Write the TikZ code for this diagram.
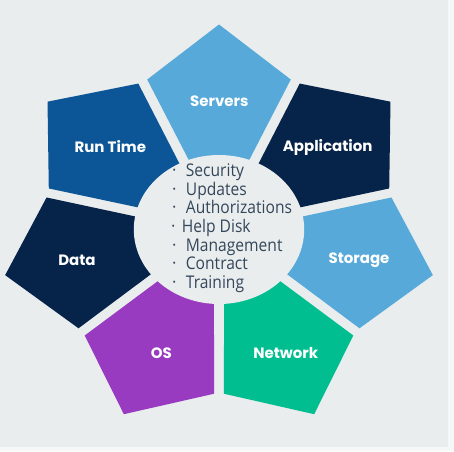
\documentclass[tikz,border=0pt]{standalone}
\usepackage{fontspec}
\usepackage{graphicx}
\newfontfamily\labfont{Poppins}
\newfontfamily\listfont{Open Sans}
\definecolor{bgc}{HTML}{E9EDEE}
\definecolor{edgec}{HTML}{F6F8F8}
\definecolor{lightblue}{HTML}{56A9D9}
\definecolor{navy}{HTML}{062349}
\definecolor{midblue}{HTML}{0C5697}
\definecolor{greenc}{HTML}{00BE8F}
\definecolor{purplec}{HTML}{993BC0}
\definecolor{listc}{HTML}{34465A}
\newcommand{\tallr}[1]{\scalebox{1}[1.12]{#1}}
\tikzset{
  lab/.style={text=white, font=\labfont\bfseries\fontsize{15}{18}\selectfont, inner sep=0pt},
  item/.style={text=listc, font=\listfont\fontsize{15.6}{19}\selectfont, anchor=base west, inner sep=0pt},
  dotc/.style={text=listc, font=\listfont\fontsize{9}{10}\selectfont, anchor=base, inner sep=0pt}
}
\newcommand{\petal}[2]{%
  \fill[#2] (#1:205) -- (#1-24.1:164.3) -- (#1-19:40.5) -- (#1+19:40.5) -- (#1+24.1:164.3) -- cycle;}
\begin{document}
\begin{tikzpicture}[x={(1.07pt,0pt)}, y={(0pt,1pt)}]
\useasboundingbox (0pt,0pt) rectangle (454pt,451pt);
\fill[edgec] (0pt,0pt) rectangle (454pt,451pt);
\fill[bgc] (0pt,4pt) rectangle (448pt,451pt);
\begin{scope}[shift={(219pt,221.5pt)}]
  \petal{90}{lightblue}
  \petal{38.571}{navy}
  \petal{-12.857}{lightblue}
  \petal{-64.286}{greenc}
  \petal{-115.714}{purplec}
  \petal{-167.143}{navy}
  \petal{-218.571}{midblue}
  \fill[bgc] (0pt,0pt) ellipse [x radius=85.2pt, y radius=74.5pt];
\end{scope}
\node[lab] (servers) at (219.3pt,349.3pt) {Servers};
\node[lab] (application) at (327.7pt,303.7pt) {Application};
\node[lab] (storage) at (359pt,190.3pt) {Storage};
\node[lab] (network) at (285.7pt,97.7pt) {Network};
\node[lab] (os) at (161.3pt,97.7pt) {OS};
\node[lab] (data) at (77pt,191pt) {Data};
\node[lab] (runtime) at (110.3pt,304pt) {Run Time};
% list
\node[dotc] (b1) at (174.3pt,277.3pt) {•};
\node[item] (i1) at (185.7pt,274.3pt) {\tallr{Security}};
\node[dotc] (b2) at (174.3pt,258.7pt) {•};
\node[item] (i2) at (185.7pt,255.7pt) {\tallr{Updates}};
\node[dotc] (b3) at (174.3pt,240.1pt) {•};
\node[item] (i3) at (185.7pt,237.1pt) {\tallr{Authorizations}};
\node[dotc] (b4) at (173.3pt,221.5pt) {•};
\node[item] (i4) at (181.7pt,218.5pt) {\tallr{Help Disk}};
\node[dotc] (b5) at (174.3pt,202.9pt) {•};
\node[item] (i5) at (185.7pt,199.9pt) {\tallr{Management}};
\node[dotc] (b6) at (174.3pt,184.3pt) {•};
\node[item] (i6) at (185.7pt,181.3pt) {\tallr{Contract}};
\node[dotc] (b7) at (174.3pt,165.7pt) {•};
\node[item] (i7) at (185.7pt,162.7pt) {\tallr{Training}};
\end{tikzpicture}
\end{document}
